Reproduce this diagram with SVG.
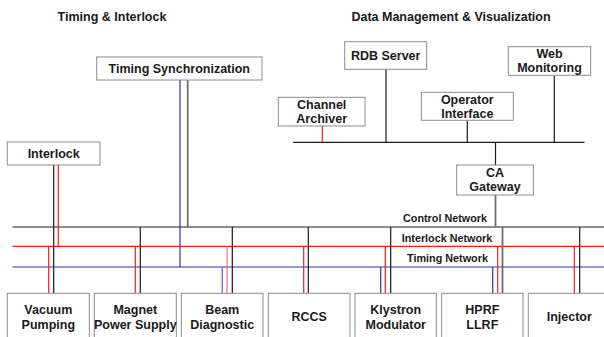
<svg xmlns="http://www.w3.org/2000/svg" width="604" height="337" viewBox="0 0 604 337">
<style>
.box{fill:#fff;stroke:#8c8c8c;stroke-width:1}
.t{font-family:"Liberation Sans",Arial,sans-serif;font-weight:bold;font-size:12.5px;fill:#1a1a1a;text-anchor:middle}
.n{font-family:"Liberation Sans",Arial,sans-serif;font-weight:bold;font-size:10.8px;fill:#1a1a1a;text-anchor:middle}
.k{stroke:#1a1a1a;stroke-width:1.2;fill:none}
.g{stroke:#6e6e6e;stroke-width:1.8;fill:none}
.r{stroke:#ff1a1a;stroke-width:1.2;fill:none}
.b{stroke:#3030a8;stroke-width:1.2;fill:none}
.lr{stroke:#f07878;stroke-width:1.2;fill:none}
.lb{stroke:#7a7ad0;stroke-width:1.5;fill:none}
</style>
<rect width="604" height="337" fill="#fff"/>
<text class="t" x="112" y="21">Timing &amp; Interlock</text>
<text class="t" x="451" y="21">Data Management &amp; Visualization</text>
<g id="connectors">
<!-- networks -->
<line class="k" x1="12.5" y1="227" x2="604" y2="227"/>
<line class="r" x1="12.5" y1="246.3" x2="604" y2="246.3"/>
<line class="b" x1="12.5" y1="267" x2="604" y2="267"/>
<!-- data bus -->
<line class="k" x1="293" y1="142.3" x2="584.5" y2="142.3"/>
<line class="k" x1="386" y1="69.3" x2="386" y2="142.3"/>
<line class="k" x1="554.3" y1="75.3" x2="554.3" y2="142.3"/>
<line class="k" x1="467.3" y1="120.3" x2="467.3" y2="142.3"/>
<line class="r" x1="322.3" y1="126" x2="322.3" y2="142.3"/>
<line class="k" x1="495.5" y1="142.3" x2="495.5" y2="165"/>
<line class="g" x1="495.5" y1="195" x2="495.5" y2="227"/>
<!-- timing sync -->
<line class="b" x1="180" y1="80" x2="180" y2="267"/>
<line class="g" x1="187.7" y1="80" x2="187.7" y2="227"/>
<!-- interlock -->
<line class="k" x1="53.7" y1="165" x2="53.7" y2="293.3"/>
<line class="r" x1="58.3" y1="165" x2="58.3" y2="246.3"/>
<!-- vacuum -->
<line class="r" x1="48.7" y1="246.3" x2="48.7" y2="293.3"/>
<!-- magnet -->
<line class="r" x1="135.3" y1="246.3" x2="135.3" y2="293.3"/>
<line class="k" x1="140.3" y1="227" x2="140.3" y2="293.3"/>
<!-- beam -->
<line class="lb" x1="222.3" y1="267" x2="222.3" y2="293.3"/>
<line class="lr" x1="227" y1="246.3" x2="227" y2="293.3"/>
<line class="k" x1="232.3" y1="227" x2="232.3" y2="293.3"/>
<!-- rccs -->
<line class="r" x1="303.7" y1="246.3" x2="303.7" y2="293.3"/>
<line class="k" x1="308.3" y1="227" x2="308.3" y2="293.3"/>
<!-- klystron -->
<line class="b" x1="380.7" y1="267" x2="380.7" y2="293.3"/>
<line class="r" x1="385.3" y1="246.3" x2="385.3" y2="293.3"/>
<line class="k" x1="390.7" y1="227" x2="390.7" y2="293.3"/>
<!-- hprf -->
<line class="b" x1="492.7" y1="267" x2="492.7" y2="293.3"/>
<line class="r" x1="497.7" y1="246.3" x2="497.7" y2="293.3"/>
<line class="g" x1="502.5" y1="227" x2="502.5" y2="293.3"/>
<!-- injector -->
<line class="r" x1="574.3" y1="246.3" x2="574.3" y2="293.3"/>
<line class="k" x1="579.7" y1="227" x2="579.7" y2="293.3"/>
</g>
<text class="n" x="445" y="221.5">Control Network</text>
<text class="n" x="447" y="241.5">Interlock Network</text>
<text class="n" x="447.5" y="262">Timing Network</text>
<g id="timing-sync"><rect class="box" x="96.7" y="57" width="165.3" height="23"/><text class="t" x="179.3" y="73">Timing Synchronization</text></g>
<g id="interlock"><rect class="box" x="7.3" y="142" width="92.7" height="23"/><text class="t" x="53.7" y="158">Interlock</text></g>
<g id="rdb"><rect class="box" x="344.7" y="41.7" width="82" height="27.6"/><text class="t" x="385.7" y="60">RDB Server</text></g>
<g id="web"><rect class="box" x="508.3" y="46.7" width="82.4" height="28.6"/><text class="t" x="549.5" y="57.5">Web</text><text class="t" x="549.5" y="72">Monitoring</text></g>
<g id="operator"><rect class="box" x="421.3" y="92.3" width="92" height="28"/><text class="t" x="467.3" y="103.5">Operator</text><text class="t" x="467.3" y="118">Interface</text></g>
<g id="archiver"><rect class="box" x="278.3" y="97.3" width="86.7" height="28.7"/><text class="t" x="321.7" y="108.5">Channel</text><text class="t" x="321.7" y="123">Archiver</text></g>
<g id="gateway"><rect class="box" x="456.7" y="165" width="76.6" height="30"/><text class="t" x="495" y="176.5">CA</text><text class="t" x="495" y="191">Gateway</text></g>
<g id="vacuum"><rect class="box" x="7.3" y="293.3" width="82" height="50"/><text class="t" x="48.3" y="313.5">Vacuum</text><text class="t" x="48.3" y="328.5">Pumping</text></g>
<g id="magnet"><rect class="box" x="94.3" y="293.3" width="82" height="50"/><text class="t" x="135.3" y="313.5">Magnet</text><text class="t" x="135.3" y="328.5">Power Supply</text></g>
<g id="beam"><rect class="box" x="181.3" y="293.3" width="81.7" height="50"/><text class="t" x="222.2" y="313.5">Beam</text><text class="t" x="222.2" y="328.5">Diagnostic</text></g>
<g id="rccs"><rect class="box" x="268.3" y="293.3" width="81.7" height="50"/><text class="t" x="309.2" y="321">RCCS</text></g>
<g id="klystron"><rect class="box" x="355" y="293.3" width="81.3" height="50"/><text class="t" x="395.7" y="313.5">Klystron</text><text class="t" x="395.7" y="328.5">Modulator</text></g>
<g id="hprf"><rect class="box" x="441.7" y="293.3" width="81.3" height="50"/><text class="t" x="482.3" y="313.5">HPRF</text><text class="t" x="482.3" y="328.5">LLRF</text></g>
<g id="injector"><rect class="box" x="528.3" y="293.3" width="82" height="50"/><text class="t" x="569.3" y="321">Injector</text></g>
</svg>
